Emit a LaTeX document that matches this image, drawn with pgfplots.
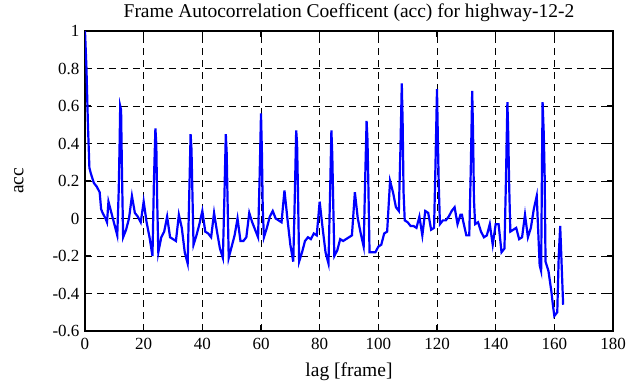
\documentclass[border=0pt]{standalone}
\usepackage{fontspec}
\setmainfont{Liberation Serif}
\usepackage{pgfplots}
\pgfplotsset{compat=1.18}
\begin{document}
\begin{tikzpicture}
\begin{axis}[
  width=528pt, height=300pt, scale only axis,
  xmin=0, xmax=180, ymin=-0.6, ymax=1,
  xtick={0,20,40,60,80,100,120,140,160,180},
  ytick={-0.6,-0.4,-0.2,0,0.2,0.4,0.6,0.8,1},
  yticklabels={-0.6,-0.4,-0.2,0,0.2,0.4,0.6,0.8,1},
  grid=major,
  grid style={black, line width=0.8pt, dash pattern=on 7pt off 5pt},
  tick align=inside, major tick length=6pt,
  tick style={black, line width=1.2pt},
  axis line style={black, line width=1.6pt},
  tick label style={font=\fontsize{17}{20}\selectfont},
  xticklabel style={yshift=-4pt},
  yticklabel style={xshift=-2pt},
  label style={font=\fontsize{19.5}{22}\selectfont},
  title style={font=\fontsize{19.5}{22}\selectfont},
  xlabel style={yshift=-6pt},
  ylabel shift=22pt,
  /pgf/number format/assume math mode=true,
  title={Frame Autocorrelation Coefficent (acc) for highway-12-2},
  xlabel={lag [frame]},
  ylabel={acc},
]
\addplot[blue, line width=2.2pt] coordinates {
(0,1.00) (0.5,0.80) (1,0.50) (1.5,0.27) (2,0.24) (3,0.19) (4,0.17) (5,0.14) (5.5,0.05) (6,0.03)
(7,0.00) (7.5,-0.02) (8,0.09) (9,0.03) (10,-0.03) (11,-0.09) (11.5,0.15) (11.8,0.40) (12,0.60) (12.3,0.58)
(12.6,0.25) (13,-0.10) (14,-0.06) (15,0.00) (16,0.12) (17,0.03) (18,0.01) (19,-0.02) (20,0.09) (21,-0.02)
(22,-0.10) (23,-0.20) (23.5,0.20) (24,0.48) (24.3,0.40) (24.6,0.10) (25,-0.18) (26,-0.10) (27,-0.07) (28,0.01)
(29,-0.10) (30,-0.11) (31,-0.12) (32,0.02) (33,-0.05) (34,-0.18) (35,-0.24) (35.5,0.10) (36,0.45) (36.3,0.37)
(36.6,0.15) (37,-0.14) (38,-0.09) (39,-0.03) (40,0.04) (41,-0.07) (42,-0.08) (43,-0.10) (44,0.03) (45,-0.07)
(46,-0.16) (47,-0.21) (47.5,0.10) (48,0.45) (48.3,0.35) (48.6,0.10) (49,-0.21) (50,-0.15) (51,-0.09) (52,0.00)
(53,-0.12) (54,-0.12) (55,-0.10) (56,0.03) (57,-0.02) (58,-0.06) (59,-0.10) (59.5,0.20) (60,0.56) (60.3,0.36)
(60.6,0.05) (61,-0.10) (62,-0.05) (63,0.01) (64,0.04) (65,0.00) (66,-0.01) (67,-0.02) (68,0.15) (69,0.00)
(70,-0.14) (71,-0.23) (71.5,0.10) (72,0.47) (72.3,0.40) (72.6,0.15) (73,-0.23) (74,-0.18) (75,-0.12) (76,-0.10)
(77,-0.11) (78,-0.08) (79,-0.09) (80,0.09) (81,-0.05) (82,-0.18) (83,-0.24) (83.5,0.10) (84,0.47) (84.3,0.34)
(84.6,0.10) (85,-0.20) (86,-0.17) (87,-0.11) (88,-0.12) (89,-0.11) (90,-0.10) (91,-0.09) (92,0.14) (93,0.00)
(94,-0.08) (95,-0.15) (95.5,0.20) (96,0.52) (96.3,0.42) (96.6,0.18) (97,-0.18) (98,-0.18) (99,-0.18) (100,-0.15)
(101,-0.14) (102,-0.08) (103,-0.07) (104,0.20) (105,0.14) (106,0.06) (107,0.04) (107.5,0.35) (108,0.72) (108.3,0.50)
(108.6,0.14) (109,-0.01) (110,-0.02) (111,-0.04) (112,-0.04) (113,-0.05) (114,0.01) (115,-0.09) (116,0.04) (117,0.03)
(118,-0.06) (119,-0.05) (119.5,0.30) (120,0.69) (120.3,0.42) (120.6,0.18) (121,-0.03) (122,-0.01) (123,-0.01) (124,0.01)
(125,0.04) (126,0.06) (127,-0.03) (128,0.02) (128.5,0.02) (129,-0.02) (130,-0.09) (131,-0.09) (131.5,0.25) (132,0.68)
(132.3,0.45) (132.6,0.10) (133,-0.03) (134,-0.02) (135,-0.07) (136,-0.10) (137,-0.09) (138,-0.03) (139,-0.14) (140,-0.03)
(141,-0.03) (142,-0.18) (143,-0.16) (143.5,0.20) (144,0.62) (144.3,0.44) (144.6,0.18) (145,-0.07) (146,-0.06) (147,-0.05)
(148,-0.11) (149,-0.10) (150,0.02) (151,-0.10) (152,-0.05) (153,0.05) (154,0.12) (155,-0.25) (155.5,-0.28) (155.8,0.30)
(156,0.62) (156.4,0.45) (156.7,0.23) (157,-0.23) (158,-0.28) (159,-0.39) (159.5,-0.46) (160,-0.52) (161,-0.50) (161.5,-0.20)
(162,-0.04) (162.5,-0.25) (163,-0.46)
};
\end{axis}
\path ([xshift=-85pt,yshift=-56pt]current axis.south west) rectangle ([xshift=22pt,yshift=31pt]current axis.north east);
\end{tikzpicture}
\end{document}
